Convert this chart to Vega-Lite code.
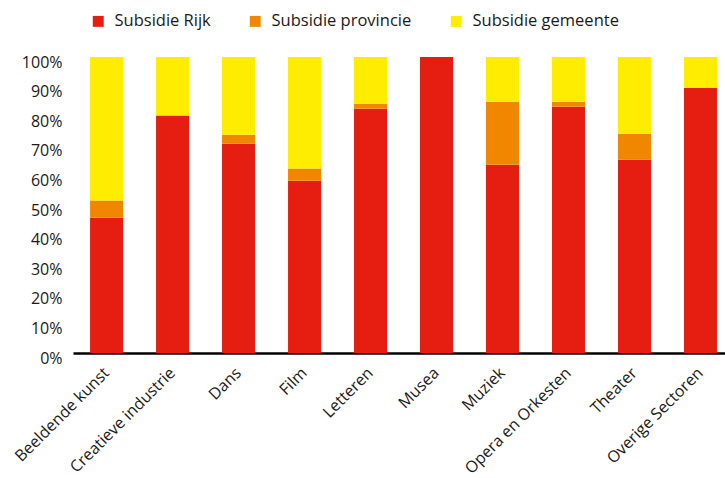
{
  "$schema": "https://vega.github.io/schema/vega-lite/v6.json",
  "width": 652,
  "height": 296,
  "autosize": {"type": "none"},
  "padding": {"left": 73, "top": 57, "right": 0, "bottom": 125},
  "background": "white",
  "config": {"view": {"stroke": null}, "font": "Open Sans"},
  "data": {"values": [
    {"sector": "Beeldende kunst", "bron": "Subsidie Rijk", "k": 1, "pct": 45.7},
    {"sector": "Beeldende kunst", "bron": "Subsidie provincie", "k": 2, "pct": 5.8},
    {"sector": "Beeldende kunst", "bron": "Subsidie gemeente", "k": 3, "pct": 48.5},
    {"sector": "Creatieve industrie", "bron": "Subsidie Rijk", "k": 1, "pct": 80.2},
    {"sector": "Creatieve industrie", "bron": "Subsidie provincie", "k": 2, "pct": 0},
    {"sector": "Creatieve industrie", "bron": "Subsidie gemeente", "k": 3, "pct": 19.8},
    {"sector": "Dans", "bron": "Subsidie Rijk", "k": 1, "pct": 70.7},
    {"sector": "Dans", "bron": "Subsidie provincie", "k": 2, "pct": 3.0},
    {"sector": "Dans", "bron": "Subsidie gemeente", "k": 3, "pct": 26.3},
    {"sector": "Film", "bron": "Subsidie Rijk", "k": 1, "pct": 58.2},
    {"sector": "Film", "bron": "Subsidie provincie", "k": 2, "pct": 4.1},
    {"sector": "Film", "bron": "Subsidie gemeente", "k": 3, "pct": 37.7},
    {"sector": "Letteren", "bron": "Subsidie Rijk", "k": 1, "pct": 82.5},
    {"sector": "Letteren", "bron": "Subsidie provincie", "k": 2, "pct": 1.7},
    {"sector": "Letteren", "bron": "Subsidie gemeente", "k": 3, "pct": 15.8},
    {"sector": "Musea", "bron": "Subsidie Rijk", "k": 1, "pct": 100},
    {"sector": "Musea", "bron": "Subsidie provincie", "k": 2, "pct": 0},
    {"sector": "Musea", "bron": "Subsidie gemeente", "k": 3, "pct": 0},
    {"sector": "Muziek", "bron": "Subsidie Rijk", "k": 1, "pct": 63.6},
    {"sector": "Muziek", "bron": "Subsidie provincie", "k": 2, "pct": 21.3},
    {"sector": "Muziek", "bron": "Subsidie gemeente", "k": 3, "pct": 15.1},
    {"sector": "Opera en Orkesten", "bron": "Subsidie Rijk", "k": 1, "pct": 83.2},
    {"sector": "Opera en Orkesten", "bron": "Subsidie provincie", "k": 2, "pct": 1.7},
    {"sector": "Opera en Orkesten", "bron": "Subsidie gemeente", "k": 3, "pct": 15.1},
    {"sector": "Theater", "bron": "Subsidie Rijk", "k": 1, "pct": 65.3},
    {"sector": "Theater", "bron": "Subsidie provincie", "k": 2, "pct": 8.8},
    {"sector": "Theater", "bron": "Subsidie gemeente", "k": 3, "pct": 25.9},
    {"sector": "Overige Sectoren", "bron": "Subsidie Rijk", "k": 1, "pct": 89.6},
    {"sector": "Overige Sectoren", "bron": "Subsidie provincie", "k": 2, "pct": 0},
    {"sector": "Overige Sectoren", "bron": "Subsidie gemeente", "k": 3, "pct": 10.4}
  ]},
  "mark": {"type": "bar"},
  "encoding": {
    "x": {
      "field": "sector", "type": "nominal", "sort": null,
      "scale": {"paddingInner": 0.5, "paddingOuter": 0.19, "align": 0.68},
      "axis": {
        "title": null, "ticks": false, "labelAngle": -45, "labelAlign": "right", "labelBaseline": "middle",
        "labelPadding": 17, "labelFontSize": 16, "labelColor": "#1a1a1a",
        "domainColor": "#000000", "domainWidth": 2.5
      }
    },
    "y": {
      "field": "pct", "type": "quantitative", "stack": "zero",
      "scale": {"domain": [0, 100], "nice": false},
      "axis": {
        "title": null, "grid": false, "domain": false, "ticks": false,
        "values": [0, 10, 20, 30, 40, 50, 60, 70, 80, 90, 100],
        "labelExpr": "datum.value + '%'", "labelFontSize": 16, "labelColor": "#1a1a1a",
        "labelPadding": 11, "labelOffset": 5
      }
    },
    "color": {
      "field": "bron", "type": "nominal",
      "scale": {"domain": ["Subsidie Rijk", "Subsidie provincie", "Subsidie gemeente"], "range": ["#e61e12", "#f18700", "#ffed00"]},
      "legend": {
        "title": null, "orient": "none", "direction": "horizontal", "legendX": 17, "legendY": -44,
        "symbolType": "square", "symbolSize": 120, "symbolStrokeWidth": 0, "symbolOpacity": 1,
        "labelFontSize": 16.5, "labelColor": "#1a1a1a", "labelOffset": 8, "columnPadding": 36
      }
    },
    "order": {"field": "k", "type": "quantitative", "sort": "ascending"}
  }
}
